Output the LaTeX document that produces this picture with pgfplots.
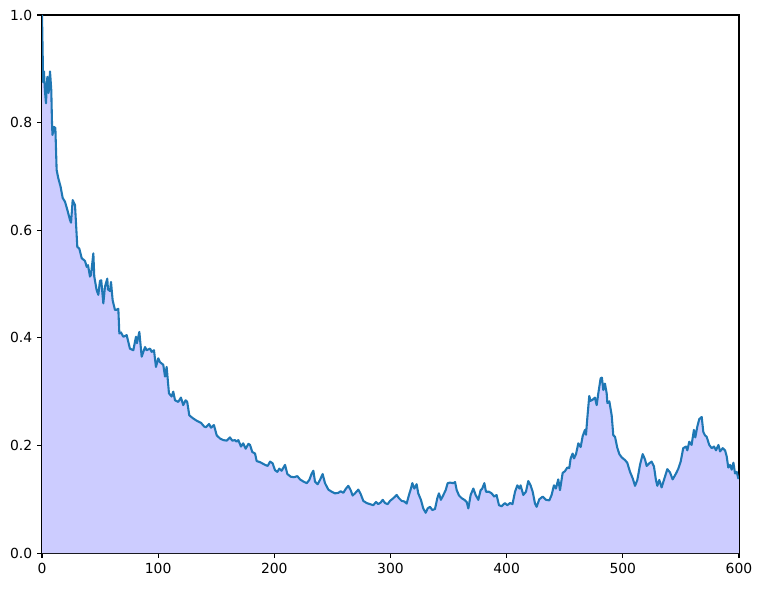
\documentclass[border=0pt]{standalone}
\usepackage{pgfplots}
\usepackage{pgfplotstable}
\pgfplotsset{compat=1.18}
\usepackage{fontspec}
\setmainfont{DejaVu Sans}
\definecolor{mplblue}{HTML}{1F77B4}
\definecolor{fillblue}{HTML}{CCCCFF}
\pgfplotstableread{
x y
0 1.0
1 0.875
1.7 0.895
2.5 0.86
3.4 0.836
4.6 0.885
5.7 0.855
6.9 0.895
8 0.86
8.6 0.80
9 0.777
10.3 0.792
11.5 0.79
12.6 0.712
14 0.697
16 0.681
17.8 0.66
19.8 0.653
21.8 0.638
24.1 0.619
25 0.614
26.4 0.656
28.4 0.647
30.4 0.569
32.1 0.566
34.2 0.548
37 0.543
38.5 0.532
39.6 0.535
41.3 0.514
42.2 0.517
44.2 0.557
45 0.514
47 0.489
48.5 0.48
49.9 0.506
51 0.507
52.8 0.464
54.2 0.495
56.2 0.51
56.8 0.49
58.5 0.487
59.4 0.504
60.8 0.47
62.8 0.452
64 0.452
65.7 0.454
66.6 0.408
68 0.41
70 0.402
72.9 0.405
75.7 0.38
78.6 0.377
80.9 0.402
81.7 0.39
83.8 0.411
85.8 0.365
88.7 0.383
90 0.377
93 0.38
94.4 0.374
96.4 0.377
98.1 0.346
100.1 0.362
101.5 0.355
104.4 0.35
105.9 0.328
107.3 0.346
109.3 0.297
111.6 0.291
113 0.3
114.5 0.284
117.3 0.281
119.6 0.289
121.6 0.275
123.6 0.284
125 0.281
126.8 0.256
130.3 0.25
133.2 0.246
136.9 0.242
139.7 0.235
141.2 0.234
143.8 0.24
145.5 0.233
148 0.238
150.4 0.219
153.2 0.213
156.1 0.21
159 0.209
161.8 0.215
163.8 0.209
166.1 0.21
167.5 0.207
169 0.21
171.3 0.198
173.2 0.204
175.3 0.194
177.7 0.203
179.1 0.201
181 0.188
183.4 0.185
184.8 0.171
187.7 0.169
192 0.164
194.3 0.162
196.3 0.17
198.5 0.167
200.6 0.154
202.6 0.151
204.3 0.157
206.3 0.153
209.2 0.164
211.2 0.147
214.1 0.142
217 0.141
219.8 0.143
222.1 0.137
225 0.133
227.9 0.13
230.1 0.136
232.2 0.148
233.6 0.153
235 0.133
237.3 0.128
239.3 0.136
241.6 0.147
243.6 0.13
246.5 0.118
249.4 0.114
252.2 0.111
255.1 0.112
257.1 0.115
259.4 0.112
261.7 0.12
263.7 0.125
265.7 0.117
267.4 0.107
269.4 0.111
272.3 0.118
274.3 0.11
276.6 0.097
279.5 0.093
282.3 0.091
285.2 0.089
287.5 0.095
289.5 0.091
291.5 0.094
293.3 0.099
295.3 0.093
297.5 0.091
299.6 0.097
302.4 0.102
305.3 0.108
307.3 0.102
309.6 0.097
311.9 0.096
313.9 0.092
315.9 0.108
317.6 0.12
318.8 0.13
320.5 0.12
322.5 0.128
323.9 0.111
326.2 0.099
328.2 0.083
330.3 0.075
332 0.083
334 0.086
336 0.08
338.3 0.082
340.3 0.102
341.7 0.111
343.4 0.099
345.5 0.108
347.5 0.117
349.2 0.13
351.2 0.131
354.1 0.13
355.6 0.132
357 0.117
359 0.107
361.3 0.102
363.6 0.099
365.6 0.095
367 0.083
369 0.108
371.3 0.12
373.3 0.108
375.6 0.099
377.6 0.117
379 0.12
380.8 0.13
382.2 0.114
384.8 0.114
387.1 0.111
389.3 0.105
391.3 0.108
393.4 0.089
395.7 0.087
398.5 0.093
400.5 0.089
402.9 0.093
405 0.091
407.2 0.114
409.2 0.126
411 0.12
412 0.126
414.3 0.108
416.6 0.114
418.6 0.134
420.6 0.126
422.4 0.114
424.4 0.092
425.8 0.086
428.1 0.1
431 0.105
433.9 0.099
436.7 0.098
438.7 0.108
440.7 0.126
442.4 0.12
444.4 0.137
445.9 0.117
448.2 0.149
450.1 0.152
452.2 0.159
453.9 0.158
455.1 0.176
456.8 0.185
458 0.176
459.7 0.184
461.7 0.204
463.7 0.197
465.4 0.217
467.4 0.229
468.3 0.22
469.4 0.25
471.1 0.292
472.3 0.283
474 0.285
476 0.289
477.5 0.275
478.9 0.297
480.9 0.325
482 0.326
483.2 0.303
484.6 0.315
486.1 0.297
486.7 0.279
488.4 0.282
490.4 0.256
491.8 0.219
493.3 0.216
495.2 0.196
497 0.184
499 0.178
501.8 0.173
503.8 0.168
506.2 0.151
508.5 0.139
510.5 0.125
512.5 0.136
514.8 0.164
517.1 0.184
519.1 0.174
520.5 0.162
522.8 0.167
524.8 0.17
526.8 0.161
528.5 0.136
529.7 0.125
531.4 0.136
533.4 0.122
535.4 0.136
538.3 0.156
540.6 0.15
542.9 0.137
545.8 0.148
547.8 0.157
549.8 0.17
552 0.195
554.4 0.198
555.5 0.191
557.2 0.207
559.2 0.201
561.2 0.229
562.4 0.215
564.1 0.235
565.8 0.249
567.9 0.253
569.3 0.225
570.7 0.219
572.2 0.216
574.4 0.201
576.5 0.195
578.5 0.198
580.2 0.191
582.3 0.201
583.7 0.189
586 0.195
588 0.191
589.4 0.18
590.8 0.159
592.3 0.164
593.7 0.155
595.2 0.168
596.6 0.148
598 0.151
599.4 0.139
600 0.14
}\datatable
\begin{document}
\begin{tikzpicture}
\useasboundingbox (-30.24pt,-25.2pt) rectangle (518.36pt,398.2pt);
\begin{axis}[
  at={(0,0)}, anchor=south west,
  width=501.8pt, height=387.4pt, scale only axis,
  xmin=0, xmax=600, ymin=0, ymax=1,
  xtick={0,100,...,600},
  ytick={0,0.2,...,1.0},
  yticklabel style={/pgf/number format/.cd, fixed, fixed zerofill, precision=1},
  /pgf/number format/assume math mode=true,
  ticklabel style={font=\fontsize{10pt}{12pt}\selectfont},
  tick align=outside, tick pos=left,
  major tick length=3.5pt,
  every tick/.style={black, line width=0.8pt},
  axis line style={line width=0.8pt},
  clip=true,
]
\addplot[draw=none, fill=fillblue] table[x=x,y=y] {\datatable} \closedcycle;
\addplot[mplblue, line width=1.5pt, line join=round] table[x=x,y=y] {\datatable};
\end{axis}
\end{tikzpicture}
\end{document}
